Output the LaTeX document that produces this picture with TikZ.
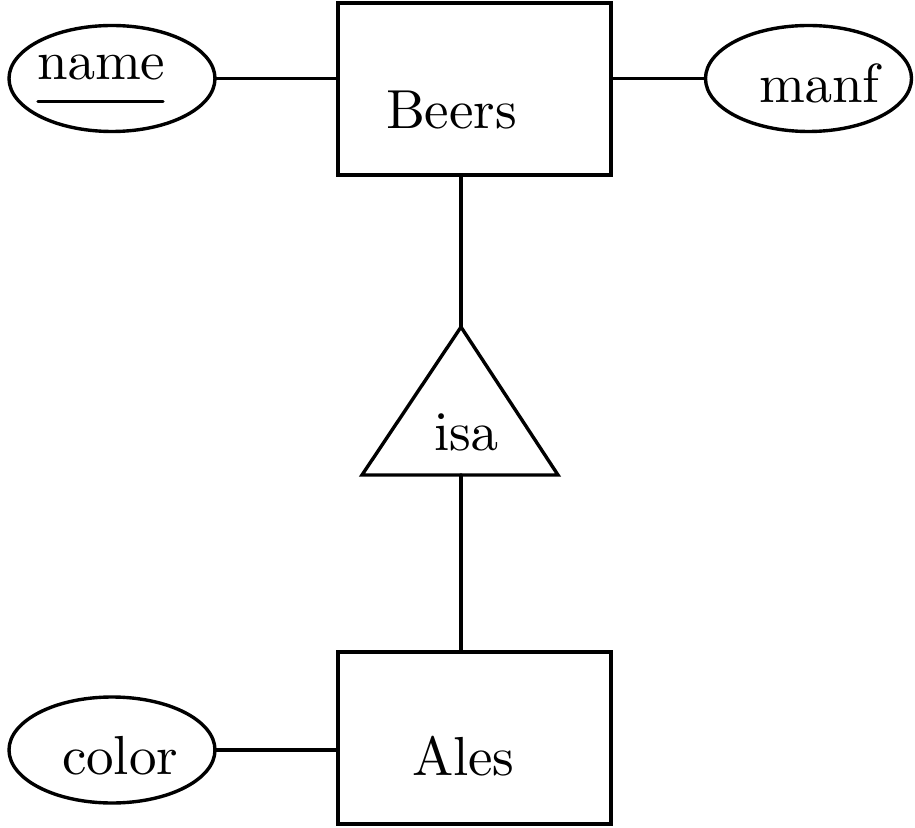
\documentclass[tikz,border=0pt]{standalone}
\usetikzlibrary{shapes.geometric}
\font\erfont=cmr10 at 27.5pt
\begin{document}
\begin{tikzpicture}[x=0.5pt,y=-0.5pt,
  every path/.style={line width=1.7pt,line cap=round,line join=miter},
  entity/.style={draw,rectangle,inner sep=0pt,outer sep=0pt,
    minimum width=136.5pt,minimum height=86pt},
  attr/.style={draw,ellipse,inner sep=0pt,outer sep=0pt,
    minimum width=103pt,minimum height=53pt},
  lbl/.style={anchor=base west,inner sep=0pt,outer sep=0pt,font=\erfont}]
\useasboundingbox (0,0) rectangle (915,828);

% entity sets
\node[entity] (beers) at (474.5,89) {};
\node[entity] (ales)  at (474.5,738) {};
\node[lbl] (beerstxt) at (386,129) {Beers};
\node[lbl] (alestxt)  at (412,775) {Ales};

% attributes
\node[attr] (name)  at (112,78.5) {};
\node[attr] (manf)  at (808.5,78.5) {};
\node[attr] (color) at (112,750) {};
\node[lbl] (nametxt)  at (37,80) {name};
\node[lbl] (manftxt)  at (759,103) {manf};
\node[lbl] (colortxt) at (62,774) {color};
\draw (38,101.5) -- (163,101.5);

% isa triangle
\coordinate (apex) at (461,327);
\coordinate (bl) at (362,475);
\coordinate (br) at (558,475);
\coordinate (base) at (461,475);
\draw (apex) -- (br) -- (bl) -- cycle;
\node[lbl] (isatxt) at (434,451) {isa};

% connectors
\draw (name.east) -- (name.east -| beers.west);
\draw (beers.east |- manf.west) -- (manf.west);
\draw (apex |- beers.south) -- (apex);
\draw (base) -- (base |- ales.north);
\draw (color.east) -- (color.east -| ales.west);
\end{tikzpicture}
\end{document}
